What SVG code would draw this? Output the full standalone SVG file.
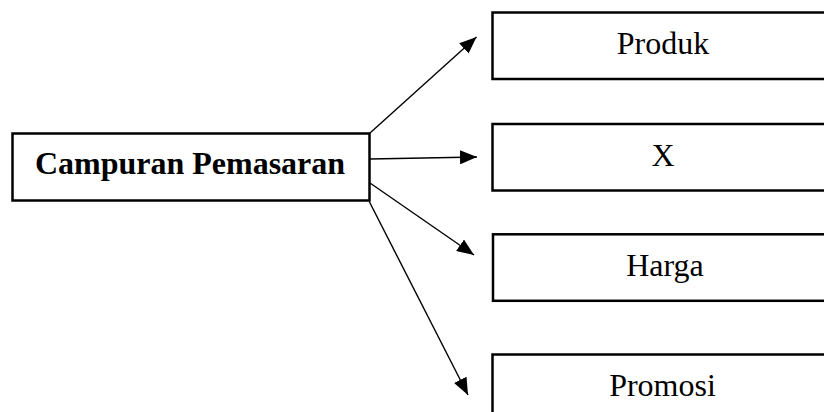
<svg xmlns="http://www.w3.org/2000/svg" width="824" height="412" viewBox="0 0 824 412">
<style>
.box{fill:#fff;stroke:#000;stroke-width:2.5}
.lbl{font-family:"Liberation Serif","Times New Roman",serif;font-size:32px;fill:#000;text-anchor:middle}
.b{font-weight:bold}
.conn{stroke:#000;stroke-width:1.4;fill:none;marker-end:url(#ah)}
</style>
<defs>
<marker id="ah" markerUnits="userSpaceOnUse" markerWidth="18" markerHeight="14" refX="17" refY="7" orient="auto">
<path d="M0,0 L17,7 L0,14 z" fill="#000"/>
</marker>
</defs>
<rect width="824" height="412" fill="#fff"/>
<g id="node-campuran">
<rect class="box" x="12.5" y="133.5" width="357" height="67"/>
<text class="lbl b" x="190" y="174">Campuran Pemasaran</text>
</g>
<g id="node-produk">
<rect class="box" x="492.5" y="12.5" width="340" height="66.5"/>
<text class="lbl" x="663" y="54">Produk</text>
</g>
<g id="node-x">
<rect class="box" x="492.5" y="124" width="340" height="66.5"/>
<text class="lbl" x="663" y="166">X</text>
</g>
<g id="node-harga">
<rect class="box" x="493" y="234.3" width="340" height="66.5"/>
<text class="lbl" x="665" y="276">Harga</text>
</g>
<g id="node-promosi">
<rect class="box" x="492.5" y="354.5" width="340" height="80"/>
<text class="lbl" x="662.5" y="396">Promosi</text>
</g>
<g id="connectors">
<line class="conn" x1="370" y1="133" x2="476.5" y2="37"/>
<line class="conn" x1="370" y1="159" x2="477" y2="157"/>
<line class="conn" x1="370" y1="183" x2="474" y2="255"/>
<line class="conn" x1="369" y1="201" x2="468" y2="395"/>
</g>
</svg>
